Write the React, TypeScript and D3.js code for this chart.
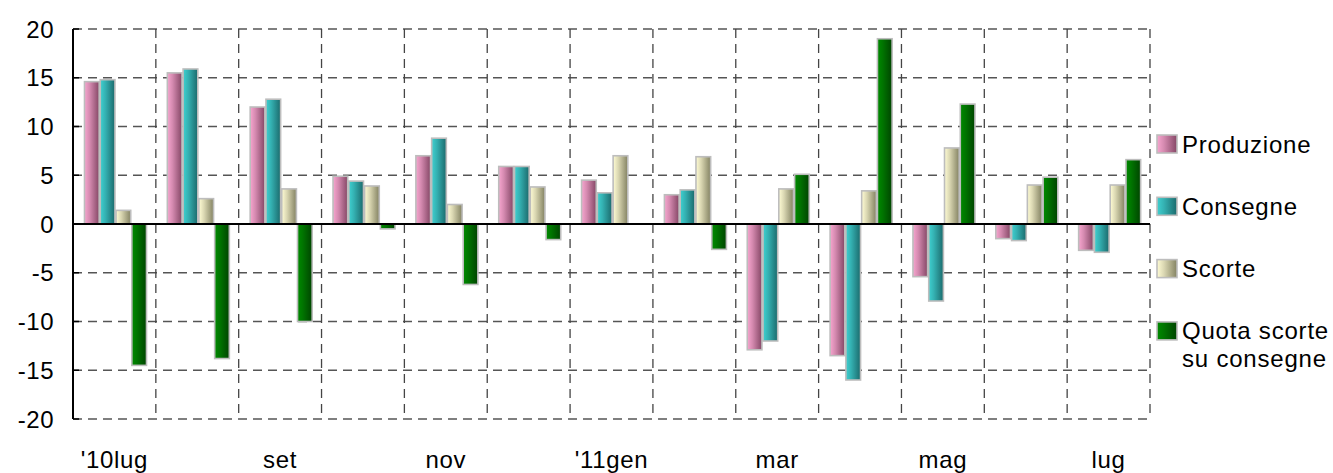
import React from 'react';
import * as d3 from 'd3';

// months shown on the x axis, one group per month
const months = ['lug10', 'ago10', 'set10', 'ott10', 'nov10', 'dic10', 'gen11', 'feb11', 'mar11', 'apr11', 'mag11', 'giu11', 'lug11'];
const monthLabels = ["'10lug", '', 'set', '', 'nov', '', "'11gen", '', 'mar', '', 'mag', '', 'lug'];

const produzione = [14.6, 15.5, 12.0, 4.9, 7.0, 5.9, 4.5, 3.0, -12.9, -13.5, -5.4, -1.5, -2.7];
const consegne = [14.8, 15.9, 12.8, 4.4, 8.8, 5.9, 3.2, 3.5, -12.0, -16.0, -7.9, -1.7, -2.9];
const scorte = [1.4, 2.6, 3.6, 3.9, 2.0, 3.8, 7.0, 6.9, 3.6, 3.4, 7.8, 4.0, 4.0];
const quota = [-14.5, -13.8, -10.0, -0.5, -6.2, -1.6, 0, -2.6, 5.1, 19.0, 12.3, 4.8, 6.6];

const yTicks = [-20, -15, -10, -5, 0, 5, 10, 15, 20];

const series = [
  { key: 'prod', name: ['Produzione'], values: produzione, light: '#f7a6cf', dark: '#854766' },
  { key: 'cons', name: ['Consegne'], values: consegne, light: '#3fd0d0', dark: '#1b6a6c' },
  { key: 'scor', name: ['Scorte'], values: scorte, light: '#fffcd4', dark: '#838262' },
  { key: 'quot', name: ['Quota scorte', 'su consegne'], values: quota, light: '#008a00', dark: '#004400' },
];

const W = 1333;
const H = 473;
const left = 73;
const right = 1150;
const top = 29;
const bottom = 419;
const font = '"Liberation Sans", Arial, sans-serif';

export default function App() {
  const x = d3.scaleBand<string>().domain(months).range([left, right]).padding(0);
  const bw = x.bandwidth();
  const xs = d3.scaleBand<string>().domain(series.map(s => s.key)).range([11.5, 73.5]).paddingInner(0.07);
  const y = d3.scaleLinear().domain([-20, 20]).range([bottom, top]);

  return (
    <div style={{ position: 'absolute', left: 0, top: 0 }}>
      <svg width={W} height={H} style={{ display: 'block', background: '#fff' }}>
        <defs>
          {series.map(s => (
            <linearGradient key={s.key} id={`g-${s.key}`} x1="0" x2="1" y1="0" y2="0">
              <stop offset="0" stopColor={s.light} />
              <stop offset="0.35" stopColor={d3.interpolateRgb(s.light, s.dark)(0.3)} />
              <stop offset="1" stopColor={s.dark} />
            </linearGradient>
          ))}
        </defs>

        {/* horizontal grid */}
        {yTicks.map(t => (
          <line key={`h${t}`} x1={left} x2={right} y1={y(t)} y2={y(t)}
            stroke="#555" strokeWidth={1.3} strokeDasharray="9,6" />
        ))}
        {/* vertical grid at group boundaries */}
        {months.map(m => (
          <line key={`v${m}`} x1={x(m)! + bw} x2={x(m)! + bw} y1={top} y2={bottom}
            stroke="#444" strokeWidth={1.3} strokeDasharray="9,6" />
        ))}

        {/* bars */}
        {months.map((m, i) => (
          <g key={m} transform={`translate(${x(m)},0)`}>
            {series.map(s => {
              const v = s.values[i];
              if (v === 0) return null;
              const y0 = y(Math.max(0, v));
              const h = Math.abs(y(v) - y(0));
              return (
                <rect key={s.key} x={xs(s.key)} y={y0} width={xs.bandwidth()} height={h}
                  fill={`url(#g-${s.key})`} stroke="#bdbdbd" strokeWidth={1.6} />
              );
            })}
          </g>
        ))}

        {/* zero line */}
        <line x1={left} x2={right} y1={y(0)} y2={y(0)} stroke="#000" strokeWidth={2} />

        {/* y axis */}
        <line x1={left} x2={left} y1={top} y2={bottom} stroke="#000" strokeWidth={2} />
        {yTicks.map(t => (
          <g key={`t${t}`}>
            <line x1={left} x2={left + 6} y1={y(t)} y2={y(t)} stroke="#000" strokeWidth={1.5} />
            <text x={54} y={y(t) + 8.5} textAnchor="end" fontFamily={font} fontSize={24} letterSpacing={0.5} fill="#000">{t}</text>
          </g>
        ))}

        {/* x labels */}
        {months.map((m, i) => monthLabels[i] ? (
          <text key={`l${m}`} x={x(m)! + bw / 2} y={468} textAnchor="middle" fontFamily={font} fontSize={24} letterSpacing={0.7} fill="#000">
            {monthLabels[i]}
          </text>
        ) : null)}

        {/* legend */}
        {series.map((s, i) => {
          const cy = 144 + i * 62.3;
          return (
            <g key={`lg${s.key}`}>
              <rect x={1157} y={cy - 9} width={20} height={18} fill={`url(#g-${s.key})`} stroke="#bdbdbd" strokeWidth={1.6} />
              {s.name.map((line, j) => (
                <text key={j} x={1182} y={cy + 8.5 + j * 28} fontFamily={font} fontSize={24} letterSpacing={0.8} fill="#000">{line}</text>
              ))}
            </g>
          );
        })}
      </svg>
    </div>
  );
}
